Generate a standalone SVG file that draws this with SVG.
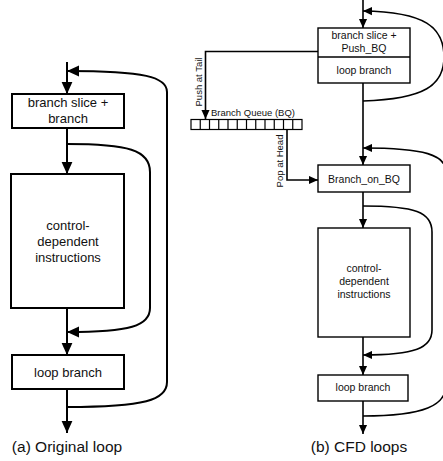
<svg xmlns="http://www.w3.org/2000/svg" width="443" height="461" viewBox="0 0 443 461">
<defs>
<style>
.bx{fill:#fff;stroke:#000}
.a .bx{stroke-width:2}
.b .bx{stroke-width:1.4}
.t{font-family:"Liberation Sans",Arial,sans-serif;fill:#111;text-anchor:middle}
.ta{font-size:13px}
.tb{font-size:10.5px}
.ts{font-size:9.5px}
.cap{font-size:15.5px}
.ca{fill:none;stroke:#000;stroke-width:2}
.cb{fill:none;stroke:#000;stroke-width:1.6}
</style>
<marker id="ma" markerUnits="userSpaceOnUse" markerWidth="12" markerHeight="12" refX="10" refY="5" orient="auto" viewBox="0 0 10 10"><path d="M0,0.5 L10,5 L0,9.5 Z" fill="#000"/></marker>
<marker id="mb" markerUnits="userSpaceOnUse" markerWidth="9" markerHeight="9" refX="10" refY="5" orient="auto" viewBox="0 0 10 10"><path d="M0,0.5 L10,5 L0,9.5 Z" fill="#000"/></marker>
</defs>
<rect width="443" height="461" fill="#fff"/>
<g id="connectors">
<path class="ca" d="M67,62 V94" marker-end="url(#ma)"/>
<path class="ca" d="M67,128 V174" marker-end="url(#ma)"/>
<path class="ca" d="M67,308 V355" marker-end="url(#ma)"/>
<path class="ca" d="M67,389 V433" marker-end="url(#ma)"/>
<path class="ca" d="M67,144 C128,144 150,150 150,172 V308 C150,326 130,332 67,332" marker-end="url(#ma)"/>
<path class="ca" d="M67,407 C145,407 167,400 167,382 V92 C167,77 145,71 67,71" marker-end="url(#ma)"/>
<path class="cb" d="M363,0 V28" marker-end="url(#mb)"/>
<path class="cb" d="M363,83 V165" marker-end="url(#mb)"/>
<path class="cb" d="M363,192 V228" marker-end="url(#mb)"/>
<path class="cb" d="M363,337 V375" marker-end="url(#mb)"/>
<path class="cb" d="M363,401 V434" marker-end="url(#mb)"/>
<path class="cb" d="M363,101 C425,99 444,85 444,57 C444,27 425,12 363,11" marker-end="url(#mb)"/>
<path class="cb" d="M318,51.5 H205.5 V119" marker-end="url(#mb)"/>
<path class="cb" d="M287,130 V180 H318" marker-end="url(#mb)"/>
<path class="cb" d="M363,206 C415,206 432,212 432,232 V330 C432,348 415,355 363,355" marker-end="url(#mb)"/>
<path class="cb" d="M363,416 C425,416 446,405 446,385 V172 C446,155 425,148 363,148" marker-end="url(#mb)"/>
</g>
<g class="a">
<g id="a-slice"><rect class="bx" x="12" y="94" width="112" height="34"/><text class="t ta" x="68" y="107">branch slice +</text><text class="t ta" x="68" y="123">branch</text></g>
<g id="a-cd"><rect class="bx" x="11" y="174" width="113" height="134"/><text class="t ta" x="68" y="230">control-</text><text class="t ta" x="68" y="246">dependent</text><text class="t ta" x="68" y="262">instructions</text></g>
<g id="a-loop"><rect class="bx" x="12" y="355" width="112" height="34"/><text class="t ta" x="68" y="377">loop branch</text></g>
<text class="t cap" x="67" y="452">(a) Original loop</text>
</g>
<g class="b">
<g id="b-slice"><rect class="bx" x="318" y="28" width="92" height="55"/><line x1="318" y1="57" x2="410" y2="57" stroke="#000" stroke-width="1.4"/><text class="t tb" x="364" y="39">branch slice +</text><text class="t tb" x="364" y="52">Push_BQ</text><text class="t tb" x="364" y="74">loop branch</text></g>
<g id="b-queue"><rect x="191" y="119.5" width="111" height="10" fill="#fff" stroke="#000" stroke-width="1.2"/><path d="M200.25,119.5 V129.5 M209.5,119.5 V129.5 M218.75,119.5 V129.5 M228,119.5 V129.5 M237.25,119.5 V129.5 M246.5,119.5 V129.5 M255.75,119.5 V129.5 M265,119.5 V129.5 M274.25,119.5 V129.5 M283.5,119.5 V129.5 M292.75,119.5 V129.5" stroke="#000" stroke-width="1.2"/><text class="t ts" x="211" y="116" style="text-anchor:start">Branch Queue (BQ)</text></g>
<text class="t ts" transform="translate(202,82) rotate(-90)">Push at Tail</text>
<text class="t ts" transform="translate(283,161) rotate(-90)">Pop at Head</text>
<g id="b-bobq"><rect class="bx" x="318" y="165" width="92" height="27"/><text class="t tb" x="364" y="183">Branch_on_BQ</text></g>
<g id="b-cd"><rect class="bx" x="318" y="228" width="92" height="109"/><text class="t tb" x="364" y="272">control-</text><text class="t tb" x="364" y="285">dependent</text><text class="t tb" x="364" y="298">instructions</text></g>
<g id="b-loop"><rect class="bx" x="318" y="375" width="90" height="26"/><text class="t tb" x="363" y="391">loop branch</text></g>
<text class="t cap" x="359" y="452">(b) CFD loops</text>
</g>
</svg>
